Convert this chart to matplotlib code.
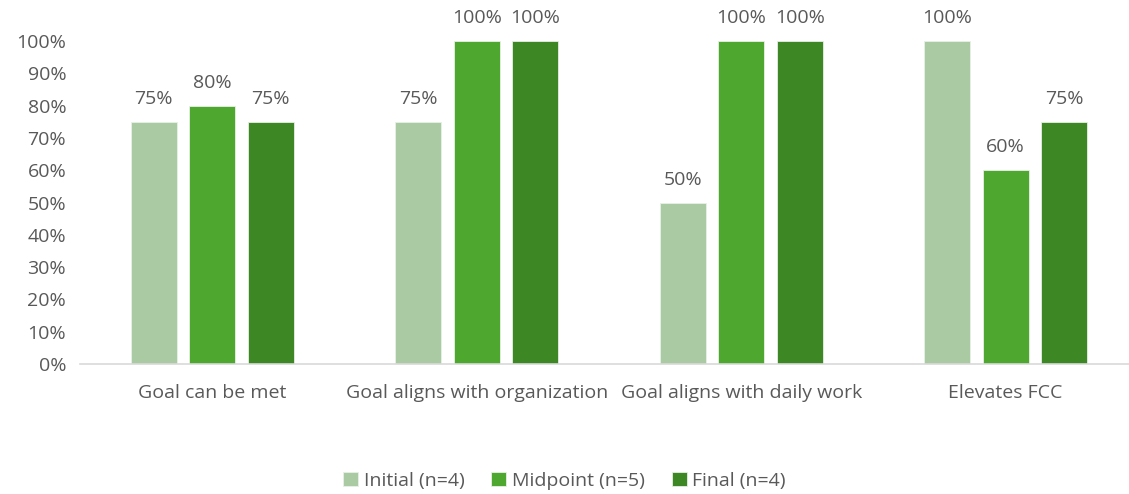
import matplotlib.pyplot as plt
import numpy as np
from matplotlib.ticker import PercentFormatter

categories = ['Goal can be met', 'Goal aligns with organization',
              'Goal aligns with daily work', 'Elevates FCC']
initial = [75, 75, 50, 100]
midpoint = [80, 100, 100, 60]
final = [75, 100, 100, 75]
series_names = ['Initial (n=4)', 'Midpoint (n=5)', 'Final (n=4)']
colors = ['#aacaa3', '#4ea72e', '#3d8724']

plt.rcParams['font.family'] = ['Open Sans', 'DejaVu Sans']
grey = '#595959'
fs = 14

fig = plt.figure(figsize=(11.29, 4.94), dpi=100)
ax = fig.add_axes([0.0709, 0.263, 0.937, 0.654])

x = np.arange(len(categories))
width = 0.174
step = 0.221
for i, (vals, name, col) in enumerate(zip([initial, midpoint, final], series_names, colors)):
    bars = ax.bar(x + (i - 1) * step, vals, width, color=col, label=name,
                  edgecolor='#e8f0e6', linewidth=0.6)
    for b, v in zip(bars, vals):
        ax.annotate(f'{v}%', (b.get_x() + b.get_width() / 2, v),
                    xytext=(0, 10), textcoords='offset points',
                    ha='center', va='bottom', fontsize=fs, color=grey,
                    annotation_clip=False)

ax.set_xlim(-0.5, len(categories) - 0.5)
ax.set_ylim(0, 100)
ax.set_yticks(np.arange(0, 101, 10))
ax.yaxis.set_major_formatter(PercentFormatter(decimals=0))
ax.set_xticks(x)
ax.set_xticklabels(categories)
ax.tick_params(axis='both', length=0, labelsize=fs, labelcolor=grey)
ax.tick_params(axis='x', pad=14)
ax.tick_params(axis='y', pad=10)

for side in ['top', 'right', 'left']:
    ax.spines[side].set_visible(False)
ax.spines['bottom'].set_color('#d9d9d9')
ax.spines['bottom'].set_linewidth(1.2)

fig.legend(loc='center', bbox_to_anchor=(0.5, 0.026), ncol=3, frameon=False,
           fontsize=fs, labelcolor=grey, handlelength=0.75, handleheight=0.75,
           handletextpad=0.3, columnspacing=1.4)

fig.savefig('out.png', dpi=100)
